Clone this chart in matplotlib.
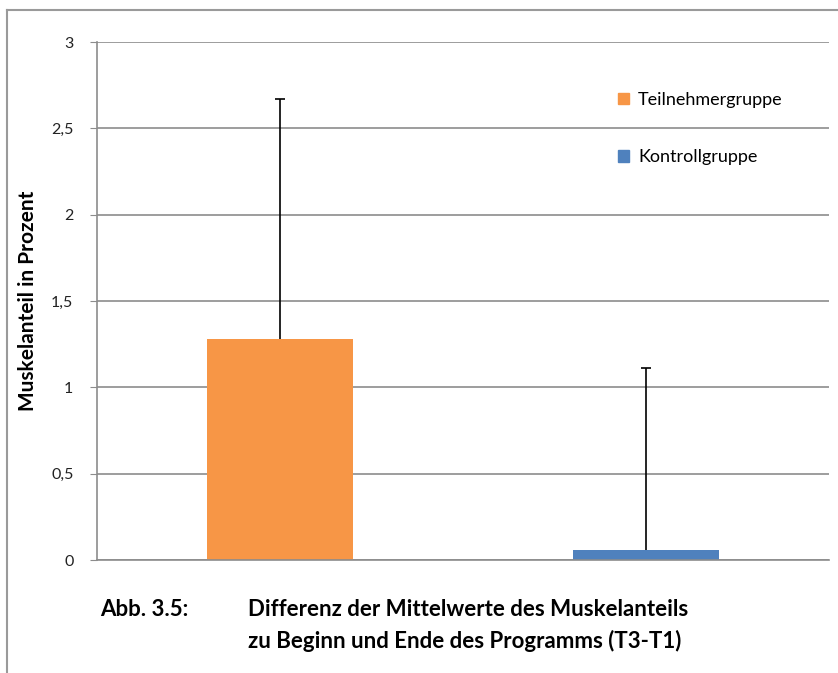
import matplotlib.pyplot as plt
from matplotlib.lines import Line2D
from matplotlib.ticker import FuncFormatter

# Data
groups = ["Teilnehmergruppe", "Kontrollgruppe"]
means = [1.28, 0.06]
errors = [1.39, 1.05]
colors = ["#F79646", "#4F81BD"]
y_ticks = [0, 0.5, 1, 1.5, 2, 2.5, 3]

plt.rcParams["font.family"] = ["Lato", "DejaVu Sans"]

fig = plt.figure(figsize=(8.38, 6.73), dpi=100)
W, H = 838, 673

# outer frame (left and top edges visible)
fig.add_artist(Line2D([7 / W, 7 / W], [0, 1 - 10 / H], color="#9a9a9a", lw=1.5))
fig.add_artist(Line2D([7 / W, 1], [1 - 10 / H, 1 - 10 / H], color="#9a9a9a", lw=1.5))

ax = fig.add_axes([97 / W, 1 - 560 / H, (829 - 97) / W, (560 - 42) / H])

x = list(range(len(groups)))
tops = [m + e for m, e in zip(means, errors)]
ax.bar(x, means, width=0.4, color=colors, zorder=2)
ax.errorbar(x, means, yerr=[[0, 0], errors], fmt="none", ecolor="black",
            elinewidth=1.2, capsize=0, zorder=3)
ax.scatter(x, tops, marker="_", s=60, color="black", linewidths=1.2, zorder=3)

ax.set_xlim(-0.5, 1.5)
ax.set_ylim(0, 3)
ax.set_yticks(y_ticks)
ax.yaxis.set_major_formatter(FuncFormatter(lambda v, p: f"{v:g}".replace(".", ",")))
ax.set_xticks([])
ax.grid(axis="y", color="#8c8c8c", lw=1.2, zorder=0)
ax.set_axisbelow(True)
for s in ["top", "right"]:
    ax.spines[s].set_visible(False)
ax.spines["left"].set_color("#8c8c8c")
ax.spines["bottom"].set_color("#8c8c8c")
ax.spines["left"].set_linewidth(1.2)
ax.spines["bottom"].set_linewidth(1.2)
ax.tick_params(axis="y", length=5, color="#8c8c8c", labelsize=11.5, pad=12,
               labelcolor="#222222")

ax.set_ylabel("Muskelanteil in Prozent", fontsize=15, fontweight="bold")
ax.yaxis.set_label_coords(-0.08, 0.5)

# legend
handles = [plt.Rectangle((0, 0), 1, 1, color=c) for c in colors]
ax.legend(handles, groups, loc="upper left", bbox_to_anchor=(0.69, 0.935),
          frameon=False, fontsize=13, handlelength=0.6, handleheight=0.6,
          handletextpad=0.5, labelspacing=2.3)

# caption
fig.text(100 / W, 1 - 610 / H, "Abb. 3.5:", fontsize=16, fontweight="bold", va="center")
fig.text(248 / W, 1 - 610 / H, "Differenz der Mittelwerte des Muskelanteils",
         fontsize=16, fontweight="bold", va="center")
fig.text(248 / W, 1 - 641 / H, "zu Beginn und Ende des Programms (T3-T1)",
         fontsize=16, fontweight="bold", va="center")

fig.savefig("out.png", dpi=100)
